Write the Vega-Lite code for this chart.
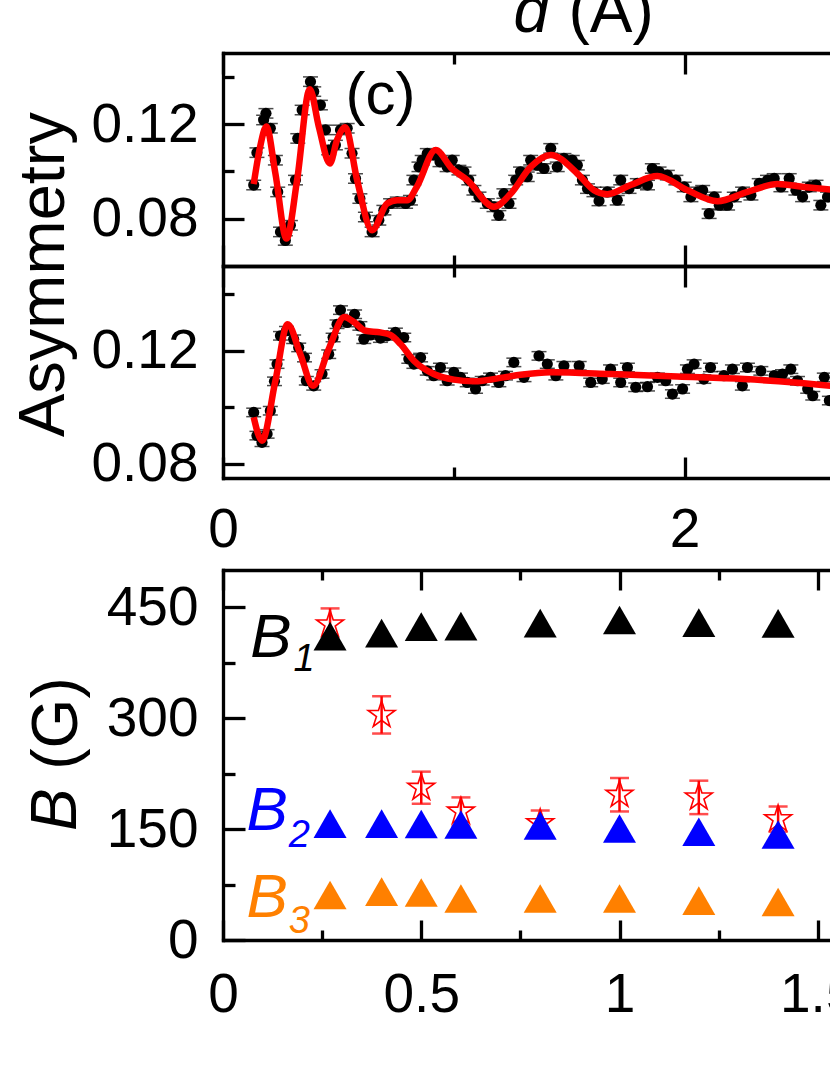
{
  "$schema": "https://vega.github.io/schema/vega-lite/v6.json",
  "padding": {"left": 11, "top": -20, "right": 0, "bottom": 5},
  "datasets": {
    "up": [
      {"x":0.133,"y":0.0942,"e":0.002},{"x":0.147,"y":0.1079,"e":0.002},{"x":0.176,"y":0.1217,"e":0.002},{"x":0.186,"y":0.1245,"e":0.002},
      {"x":0.205,"y":0.1182,"e":0.002},{"x":0.227,"y":0.1047,"e":0.002},{"x":0.237,"y":0.0913,"e":0.002},{"x":0.249,"y":0.0744,"e":0.002},
      {"x":0.270,"y":0.0708,"e":0.002},{"x":0.292,"y":0.0772,"e":0.002},{"x":0.314,"y":0.0963,"e":0.002},{"x":0.324,"y":0.1139,"e":0.002},
      {"x":0.343,"y":0.1259,"e":0.002},{"x":0.379,"y":0.1379,"e":0.002},{"x":0.393,"y":0.1337,"e":0.002},{"x":0.422,"y":0.1280,"e":0.002},
      {"x":0.444,"y":0.1175,"e":0.002},{"x":0.458,"y":0.1090,"e":0.002},{"x":0.487,"y":0.1111,"e":0.002},{"x":0.509,"y":0.1175,"e":0.002},
      {"x":0.538,"y":0.1182,"e":0.002},{"x":0.559,"y":0.1076,"e":0.002},{"x":0.574,"y":0.0970,"e":0.002},{"x":0.593,"y":0.0885,"e":0.002},
      {"x":0.617,"y":0.0807,"e":0.002},{"x":0.646,"y":0.0744,"e":0.002},{"x":0.675,"y":0.0793,"e":0.002},{"x":0.697,"y":0.0836,"e":0.002},
      {"x":0.726,"y":0.0864,"e":0.002},{"x":0.755,"y":0.0871,"e":0.002},{"x":0.791,"y":0.0864,"e":0.002},{"x":0.812,"y":0.0878,"e":0.002},
      {"x":0.827,"y":0.0963,"e":0.002},{"x":0.849,"y":0.1019,"e":0.002},{"x":0.863,"y":0.1047,"e":0.002},{"x":0.885,"y":0.1076,"e":0.002},
      {"x":0.913,"y":0.1069,"e":0.002},{"x":0.940,"y":0.1040,"e":0.002},{"x":0.971,"y":0.1019,"e":0.002},{"x":0.993,"y":0.1047,"e":0.002},
      {"x":1.022,"y":0.1005,"e":0.002},{"x":1.044,"y":0.0998,"e":0.002},{"x":1.065,"y":0.0963,"e":0.002},{"x":1.087,"y":0.0920,"e":0.002},
      {"x":1.109,"y":0.0892,"e":0.002},{"x":1.145,"y":0.0864,"e":0.002},{"x":1.174,"y":0.0850,"e":0.002},{"x":1.195,"y":0.0814,"e":0.002},
      {"x":1.217,"y":0.0906,"e":0.002},{"x":1.239,"y":0.0864,"e":0.002},{"x":1.268,"y":0.0963,"e":0.002},{"x":1.289,"y":0.0998,"e":0.002},
      {"x":1.318,"y":0.0977,"e":0.002},{"x":1.333,"y":0.1047,"e":0.002},{"x":1.362,"y":0.1026,"e":0.002},{"x":1.391,"y":0.1012,"e":0.002},
      {"x":1.420,"y":0.1097,"e":0.002},{"x":1.448,"y":0.1019,"e":0.002},{"x":1.477,"y":0.1055,"e":0.002},{"x":1.513,"y":0.1047,"e":0.002},
      {"x":1.535,"y":0.1026,"e":0.002},{"x":1.557,"y":0.0963,"e":0.002},{"x":1.579,"y":0.0927,"e":0.002},{"x":1.607,"y":0.0913,"e":0.002},
      {"x":1.629,"y":0.0875,"e":0.002},{"x":1.665,"y":0.0913,"e":0.002},{"x":1.708,"y":0.0878,"e":0.002},{"x":1.723,"y":0.0963,"e":0.002},
      {"x":1.759,"y":0.0927,"e":0.002},{"x":1.795,"y":0.0949,"e":0.002},{"x":1.839,"y":0.0942,"e":0.002},{"x":1.860,"y":0.1012,"e":0.002},
      {"x":1.889,"y":0.0998,"e":0.002},{"x":1.925,"y":0.0984,"e":0.002},{"x":1.962,"y":0.0963,"e":0.002},{"x":1.998,"y":0.0934,"e":0.002},
      {"x":2.027,"y":0.0892,"e":0.002},{"x":2.056,"y":0.0913,"e":0.002},{"x":2.078,"y":0.0920,"e":0.002},{"x":2.106,"y":0.0821,"e":0.002},
      {"x":2.128,"y":0.0892,"e":0.002},{"x":2.150,"y":0.0857,"e":0.002},{"x":2.186,"y":0.0857,"e":0.002},{"x":2.215,"y":0.0892,"e":0.002},
      {"x":2.251,"y":0.0913,"e":0.002},{"x":2.287,"y":0.0899,"e":0.002},{"x":2.323,"y":0.0949,"e":0.002},{"x":2.359,"y":0.0963,"e":0.002},
      {"x":2.388,"y":0.0970,"e":0.002},{"x":2.417,"y":0.0934,"e":0.002},{"x":2.453,"y":0.0970,"e":0.002},{"x":2.482,"y":0.0920,"e":0.002},
      {"x":2.511,"y":0.0892,"e":0.002},{"x":2.540,"y":0.0934,"e":0.002},{"x":2.569,"y":0.0942,"e":0.002},{"x":2.590,"y":0.0857,"e":0.002},
      {"x":2.619,"y":0.0892,"e":0.002}
    ],
    "upfit": [
      {"x":0.133,"y":0.0946},{"x":0.160,"y":0.1100},{"x":0.188,"y":0.1189},{"x":0.227,"y":0.0991},{"x":0.275,"y":0.0716},
      {"x":0.321,"y":0.0963},{"x":0.376,"y":0.1347},{"x":0.415,"y":0.1189},{"x":0.463,"y":0.1033},{"x":0.494,"y":0.1132},
      {"x":0.530,"y":0.1186},{"x":0.581,"y":0.0963},{"x":0.646,"y":0.0751},{"x":0.711,"y":0.0864},{"x":0.755,"y":0.0878},
      {"x":0.798,"y":0.0878},{"x":0.840,"y":0.0935},{"x":0.921,"y":0.1090},{"x":0.993,"y":0.1010},{"x":1.058,"y":0.0963},
      {"x":1.174,"y":0.0850},{"x":1.246,"y":0.0905},{"x":1.333,"y":0.1019},{"x":1.420,"y":0.1069},{"x":1.535,"y":0.0991},
      {"x":1.607,"y":0.0920},{"x":1.665,"y":0.0903},{"x":1.766,"y":0.0942},{"x":1.882,"y":0.0980},{"x":2.012,"y":0.0920},
      {"x":2.142,"y":0.0874},{"x":2.272,"y":0.0913},{"x":2.402,"y":0.0946},{"x":2.518,"y":0.0934},{"x":2.634,"y":0.0923}
    ],
    "lo": [
      {"x":0.133,"y":0.0982,"e":0.0015},{"x":0.147,"y":0.0900,"e":0.0015},{"x":0.169,"y":0.0876,"e":0.0015},{"x":0.191,"y":0.0906,"e":0.0015},
      {"x":0.205,"y":0.0988,"e":0.0015},{"x":0.223,"y":0.1092,"e":0.0015},{"x":0.234,"y":0.1153,"e":0.0015},{"x":0.249,"y":0.1253,"e":0.0015},
      {"x":0.275,"y":0.1271,"e":0.0015},{"x":0.306,"y":0.1241,"e":0.0015},{"x":0.328,"y":0.1212,"e":0.0015},{"x":0.353,"y":0.1176,"e":0.0015},
      {"x":0.361,"y":0.1094,"e":0.0015},{"x":0.393,"y":0.1076,"e":0.0015},{"x":0.429,"y":0.1118,"e":0.0015},{"x":0.458,"y":0.1188,"e":0.0015},
      {"x":0.477,"y":0.1247,"e":0.0015},{"x":0.494,"y":0.1294,"e":0.0015},{"x":0.509,"y":0.1344,"e":0.0015},{"x":0.538,"y":0.1300,"e":0.0015},
      {"x":0.570,"y":0.1329,"e":0.0015},{"x":0.593,"y":0.1288,"e":0.0015},{"x":0.610,"y":0.1241,"e":0.0015},{"x":0.639,"y":0.1256,"e":0.0015},
      {"x":0.682,"y":0.1245,"e":0.0015},{"x":0.711,"y":0.1253,"e":0.0015},{"x":0.747,"y":0.1265,"e":0.0015},{"x":0.783,"y":0.1247,"e":0.0015},
      {"x":0.805,"y":0.1171,"e":0.0015},{"x":0.827,"y":0.1153,"e":0.0015},{"x":0.856,"y":0.1176,"e":0.0015},{"x":0.885,"y":0.1129,"e":0.0015},
      {"x":0.913,"y":0.1112,"e":0.0015},{"x":0.942,"y":0.1141,"e":0.0015},{"x":0.971,"y":0.1094,"e":0.0015},{"x":1.000,"y":0.1124,"e":0.0015},
      {"x":1.029,"y":0.1106,"e":0.0015},{"x":1.058,"y":0.1088,"e":0.0015},{"x":1.094,"y":0.1065,"e":0.0015},{"x":1.123,"y":0.1094,"e":0.0015},
      {"x":1.159,"y":0.1106,"e":0.0015},{"x":1.195,"y":0.1088,"e":0.0015},{"x":1.224,"y":0.1112,"e":0.0015},{"x":1.260,"y":0.1159,"e":0.0015},
      {"x":1.304,"y":0.1106,"e":0.0015},{"x":1.369,"y":0.1182,"e":0.0015},{"x":1.405,"y":0.1153,"e":0.0015},{"x":1.442,"y":0.1112,"e":0.0015},
      {"x":1.477,"y":0.1147,"e":0.0015},{"x":1.543,"y":0.1147,"e":0.0015},{"x":1.593,"y":0.1088,"e":0.0015},{"x":1.643,"y":0.1100,"e":0.0015},
      {"x":1.679,"y":0.1135,"e":0.0015},{"x":1.723,"y":0.1088,"e":0.0015},{"x":1.752,"y":0.1141,"e":0.0015},{"x":1.788,"y":0.1071,"e":0.0015},
      {"x":1.839,"y":0.1073,"e":0.0015},{"x":1.882,"y":0.1106,"e":0.0015},{"x":1.918,"y":0.1094,"e":0.0015},{"x":1.947,"y":0.1047,"e":0.0015},
      {"x":1.991,"y":0.1065,"e":0.0015},{"x":2.012,"y":0.1135,"e":0.0015},{"x":2.041,"y":0.1153,"e":0.0015},{"x":2.083,"y":0.1100,"e":0.0015},
      {"x":2.112,"y":0.1141,"e":0.0015},{"x":2.170,"y":0.1112,"e":0.0015},{"x":2.207,"y":0.1135,"e":0.0015},{"x":2.250,"y":0.1076,"e":0.0015},
      {"x":2.272,"y":0.1141,"e":0.0015},{"x":2.330,"y":0.1129,"e":0.0015},{"x":2.388,"y":0.1112,"e":0.0015},{"x":2.424,"y":0.1118,"e":0.0015},
      {"x":2.460,"y":0.1135,"e":0.0015},{"x":2.489,"y":0.1094,"e":0.0015},{"x":2.533,"y":0.1065,"e":0.0015},{"x":2.555,"y":0.1041,"e":0.0015},
      {"x":2.605,"y":0.1106,"e":0.0015},{"x":2.627,"y":0.1024,"e":0.0015}
    ],
    "lofit": [
      {"x":0.133,"y":0.0965},{"x":0.169,"y":0.0882},{"x":0.227,"y":0.1094},{"x":0.280,"y":0.1294},{"x":0.335,"y":0.1188},
      {"x":0.390,"y":0.1076},{"x":0.458,"y":0.1206},{"x":0.526,"y":0.1320},{"x":0.570,"y":0.1300},{"x":0.617,"y":0.1271},
      {"x":0.682,"y":0.1265},{"x":0.725,"y":0.1256},{"x":0.769,"y":0.1224},{"x":0.827,"y":0.1165},{"x":0.913,"y":0.1118},
      {"x":1.000,"y":0.1098},{"x":1.087,"y":0.1092},{"x":1.217,"y":0.1106},{"x":1.289,"y":0.1115},{"x":1.420,"y":0.1124},
      {"x":1.680,"y":0.1118},{"x":1.969,"y":0.1109},{"x":2.258,"y":0.1100},{"x":2.475,"y":0.1088},{"x":2.634,"y":0.1076}
    ],
    "tri": [
      {"x":0.27,"B":410.6,"series":"B1"},{"x":0.4,"B":414.7,"series":"B1"},{"x":0.5,"B":423.5,"series":"B1"},{"x":0.6,"B":424.2,"series":"B1"},
      {"x":0.8,"B":428.2,"series":"B1"},{"x":1.0,"B":432.5,"series":"B1"},{"x":1.2,"B":428.9,"series":"B1"},{"x":1.4,"B":427.9,"series":"B1"},
      {"x":0.27,"B":157.3,"series":"B2"},{"x":0.4,"B":157.3,"series":"B2"},{"x":0.5,"B":156.8,"series":"B2"},{"x":0.6,"B":156.1,"series":"B2"},
      {"x":0.8,"B":154.8,"series":"B2"},{"x":1.0,"B":150.7,"series":"B2"},{"x":1.2,"B":146.2,"series":"B2"},{"x":1.4,"B":142.6,"series":"B2"},
      {"x":0.27,"B":60.9,"series":"B3"},{"x":0.4,"B":65.4,"series":"B3"},{"x":0.5,"B":64.1,"series":"B3"},{"x":0.6,"B":56.0,"series":"B3"},
      {"x":0.8,"B":56.0,"series":"B3"},{"x":1.0,"B":56.0,"series":"B3"},{"x":1.2,"B":53.2,"series":"B3"},{"x":1.4,"B":51.4,"series":"B3"}
    ],
    "star": [
      {"x":0.27,"B":426.5,"e":21.6},{"x":0.4,"B":304.2,"e":25.2},{"x":0.5,"B":205.8,"e":21.7},{"x":0.6,"B":173.7,"e":19.0},
      {"x":0.8,"B":158.0,"e":17.0},{"x":1.0,"B":196.3,"e":22.6},{"x":1.2,"B":192.7,"e":22.6},{"x":1.4,"B":163.4,"e":17.0}
    ]
  },
  "spacing": 0,
  "bounds": "flush",
  "vconcat": [
    {
      "width": 608,
      "height": 213,
      "resolve": {"axis": {"x": "independent", "y": "independent"}},
      "layer": [
        {
          "data": {"name": "up"},
          "mark": {"type": "errorbar", "ticks": true, "size": 15, "thickness": 1.5, "color": "black"},
          "encoding": {
            "x": {"field": "x", "type": "quantitative", "scale": {"domain": [0, 2.634], "nice": false, "zero": false}, "axis": null},
            "y": {"field": "y", "type": "quantitative", "scale": {"domain": [0.06, 0.15], "nice": false, "zero": false}, "axis": null},
            "yError": {"field": "e"}
          }
        },
        {
          "data": {"name": "up"},
          "mark": {"type": "point", "shape": "circle", "filled": true, "size": 125, "color": "black", "opacity": 1},
          "encoding": {
            "x": {"field": "x", "type": "quantitative", "scale": {"domain": [0, 2.634], "nice": false, "zero": false},
              "axis": {"orient": "bottom", "values": [0, 1, 2], "labels": false, "title": null,
                "tickSize": {"condition": {"test": "datum.value == 1", "value": -11}, "value": -21}}},
            "y": {"field": "y", "type": "quantitative", "scale": {"domain": [0.06, 0.15], "nice": false, "zero": false},
              "axis": {"orient": "left", "values": [0.08, 0.1, 0.12, 0.14], "format": ".2f",
                "labelExpr": "round(datum.value*100) % 4 == 0 ? datum.label : ''",
                "tickSize": {"condition": {"test": "round(datum.value*100) % 4 != 0", "value": -11}, "value": -21},
                "labelPadding": 46,
                "title": "Asymmetry", "titleX": -160, "titleY": 221, "titleAngle": 270, "titleAlign": "center", "titleBaseline": "alphabetic"}}
          }
        },
        {
          "data": {"name": "upfit"},
          "mark": {"type": "line", "color": "#FF0000", "strokeWidth": 6.5, "interpolate": "monotone"},
          "encoding": {
            "x": {"field": "x", "type": "quantitative", "scale": {"domain": [0, 2.634], "nice": false, "zero": false},
              "axis": {"orient": "top", "values": [0, 1, 2], "labels": false, "title": null,
                "tickSize": {"condition": {"test": "datum.value == 1", "value": -11}, "value": -21}}},
            "y": {"field": "y", "type": "quantitative", "scale": {"domain": [0.06, 0.15], "nice": false, "zero": false}, "axis": null}
          }
        },
        {
          "data": {"values": [{}]},
          "mark": {"type": "text", "text": "(c)", "fontSize": 60, "align": "center", "baseline": "alphabetic", "color": "black"},
          "encoding": {
            "x": {"datum": 0.682, "type": "quantitative", "axis": null},
            "y": {"datum": 0.1241, "type": "quantitative", "axis": null}
          }
        },
        {
          "data": {"values": [{}]},
          "mark": {"type": "text", "text": "d", "fontSize": 64, "fontStyle": "italic", "align": "left", "baseline": "alphabetic", "color": "black"},
          "encoding": {
            "x": {"datum": 1.259, "type": "quantitative", "axis": null},
            "y": {"datum": 0.159, "type": "quantitative", "axis": null}
          }
        },
        {
          "data": {"values": [{}]},
          "mark": {"type": "text", "text": "(Å)", "fontSize": 64, "align": "left", "baseline": "alphabetic", "color": "black"},
          "encoding": {
            "x": {"datum": 1.497, "type": "quantitative", "axis": null},
            "y": {"datum": 0.159, "type": "quantitative", "axis": null}
          }
        }
      ]
    },
    {
      "width": 608,
      "height": 212,
      "resolve": {"axis": {"x": "independent", "y": "independent"}},
      "layer": [
        {
          "data": {"name": "lo"},
          "mark": {"type": "errorbar", "ticks": true, "size": 15, "thickness": 1.5, "color": "black"},
          "encoding": {
            "x": {"field": "x", "type": "quantitative", "scale": {"domain": [0, 2.634], "nice": false, "zero": false}, "axis": null},
            "y": {"field": "y", "type": "quantitative", "scale": {"domain": [0.075, 0.15], "nice": false, "zero": false}, "axis": null},
            "yError": {"field": "e"}
          }
        },
        {
          "data": {"name": "lo"},
          "mark": {"type": "point", "shape": "circle", "filled": true, "size": 125, "color": "black", "opacity": 1},
          "encoding": {
            "x": {"field": "x", "type": "quantitative", "scale": {"domain": [0, 2.634], "nice": false, "zero": false},
              "axis": {"orient": "bottom", "values": [0, 1, 2], "format": "~g", "title": null,
                "labelExpr": "datum.value == 1 ? '' : datum.label",
                "labelPadding": 46,
                "tickSize": {"condition": {"test": "datum.value == 1", "value": -11}, "value": -21}}},
            "y": {"field": "y", "type": "quantitative", "scale": {"domain": [0.075, 0.15], "nice": false, "zero": false},
              "axis": {"orient": "left", "values": [0.08, 0.1, 0.12, 0.14], "format": ".2f",
                "labelExpr": "round(datum.value*100) % 4 == 0 ? datum.label : ''",
                "tickSize": {"condition": {"test": "round(datum.value*100) % 4 != 0", "value": -11}, "value": -21},
                "labelPadding": 46, "title": null}}
          }
        },
        {
          "data": {"name": "lofit"},
          "mark": {"type": "line", "color": "#FF0000", "strokeWidth": 6.5, "interpolate": "monotone"},
          "encoding": {
            "x": {"field": "x", "type": "quantitative", "scale": {"domain": [0, 2.634], "nice": false, "zero": false},
              "axis": {"orient": "top", "values": [0, 1, 2], "labels": false, "title": null,
                "tickSize": {"condition": {"test": "datum.value == 1", "value": -11}, "value": -21}}},
            "y": {"field": "y", "type": "quantitative", "scale": {"domain": [0.075, 0.15], "nice": false, "zero": false}, "axis": null}
          }
        }
      ]
    },
    {
      "width": 608,
      "height": 92,
      "data": {"values": [{}]},
      "mark": {"type": "text", "text": ""},
      "encoding": {}
    },
    {
      "width": 608,
      "height": 370,
      "resolve": {"axis": {"x": "independent", "y": "independent"}},
      "layer": [
        {
          "data": {"name": "star"},
          "mark": {"type": "errorbar", "ticks": true, "size": 19, "thickness": 2.5, "color": "#FF0000"},
          "encoding": {
            "x": {"field": "x", "type": "quantitative", "scale": {"domain": [0, 1.5334], "nice": false, "zero": false}, "axis": null},
            "y": {"field": "B", "type": "quantitative", "scale": {"domain": [0, 500], "nice": false, "zero": false}, "axis": null},
            "yError": {"field": "e"}
          }
        },
        {
          "data": {"name": "star"},
          "mark": {"type": "point", "shape": "M0,-1L0.2245,-0.309L0.951,-0.309L0.363,0.118L0.588,0.809L0,0.382L-0.588,0.809L-0.363,0.118L-0.951,-0.309L-0.2245,-0.309Z",
            "filled": false, "size": 800, "stroke": "#FF0000", "strokeWidth": 1.6, "opacity": 1},
          "encoding": {
            "x": {"field": "x", "type": "quantitative", "scale": {"domain": [0, 1.5334], "nice": false, "zero": false},
              "axis": {"orient": "top", "values": [0, 0.25, 0.5, 0.75, 1, 1.25, 1.5], "labels": false, "title": null,
                "tickSize": {"condition": {"test": "(datum.value*2) % 1 != 0", "value": -10}, "value": -20}}},
            "y": {"field": "B", "type": "quantitative", "scale": {"domain": [0, 500], "nice": false, "zero": false}, "axis": null}
          }
        },
        {
          "data": {"name": "tri"},
          "mark": {"type": "point", "shape": "triangle-up", "filled": true, "size": 1090, "opacity": 1},
          "encoding": {
            "x": {"field": "x", "type": "quantitative", "scale": {"domain": [0, 1.5334], "nice": false, "zero": false},
              "axis": {"orient": "bottom", "values": [0, 0.25, 0.5, 0.75, 1, 1.25, 1.5], "format": "~g", "title": null,
                "labelExpr": "(datum.value*2) % 1 == 0 ? datum.label : ''",
                "labelPadding": 48,
                "tickSize": {"condition": {"test": "(datum.value*2) % 1 != 0", "value": -10}, "value": -20}}},
            "y": {"field": "B", "type": "quantitative", "scale": {"domain": [0, 500], "nice": false, "zero": false},
              "axis": {"orient": "left", "values": [0, 75, 150, 225, 300, 375, 450],
                "labelExpr": "datum.value % 150 == 0 ? datum.label : ''",
                "tickSize": {"condition": {"test": "datum.value % 150 != 0", "value": -12}, "value": -22},
                "labelPadding": 47,
                "title": "(G)", "titleX": -147, "titleY": 153, "titleAngle": 270, "titleAlign": "center", "titleBaseline": "alphabetic", "titleFontSize": 64}},
            "color": {"field": "series", "type": "nominal", "scale": {"domain": ["B1", "B2", "B3"], "range": ["#000000", "#0000FF", "#FF8000"]}, "legend": null}
          }
        },
        {
          "data": {"values": [{}]},
          "mark": {"type": "text", "text": "B", "fontSize": 64, "fontStyle": "italic", "angle": 270, "align": "center", "baseline": "alphabetic", "color": "black"},
          "encoding": {
            "x": {"datum": -0.37, "type": "quantitative", "axis": null},
            "y": {"datum": 176, "type": "quantitative", "axis": null}
          }
        },
        {
          "data": {"values": [{}]},
          "mark": {"type": "text", "text": "B", "fontSize": 62, "fontStyle": "italic", "align": "left", "baseline": "alphabetic", "color": "#000000"},
          "encoding": {"x": {"datum": 0.069, "type": "quantitative", "axis": null}, "y": {"datum": 383, "type": "quantitative", "axis": null}}
        },
        {
          "data": {"values": [{}]},
          "mark": {"type": "text", "text": "1", "fontSize": 38, "fontStyle": "italic", "align": "left", "baseline": "alphabetic", "color": "#000000"},
          "encoding": {"x": {"datum": 0.178, "type": "quantitative", "axis": null}, "y": {"datum": 363, "type": "quantitative", "axis": null}}
        },
        {
          "data": {"values": [{}]},
          "mark": {"type": "text", "text": "B", "fontSize": 62, "fontStyle": "italic", "align": "left", "baseline": "alphabetic", "color": "#0000FF"},
          "encoding": {"x": {"datum": 0.059, "type": "quantitative", "axis": null}, "y": {"datum": 149, "type": "quantitative", "axis": null}}
        },
        {
          "data": {"values": [{}]},
          "mark": {"type": "text", "text": "2", "fontSize": 38, "fontStyle": "italic", "align": "left", "baseline": "alphabetic", "color": "#0000FF"},
          "encoding": {"x": {"datum": 0.166, "type": "quantitative", "axis": null}, "y": {"datum": 126, "type": "quantitative", "axis": null}}
        },
        {
          "data": {"values": [{}]},
          "mark": {"type": "text", "text": "B", "fontSize": 62, "fontStyle": "italic", "align": "left", "baseline": "alphabetic", "color": "#FF8000"},
          "encoding": {"x": {"datum": 0.059, "type": "quantitative", "axis": null}, "y": {"datum": 31, "type": "quantitative", "axis": null}}
        },
        {
          "data": {"values": [{}]},
          "mark": {"type": "text", "text": "3", "fontSize": 38, "fontStyle": "italic", "align": "left", "baseline": "alphabetic", "color": "#FF8000"},
          "encoding": {"x": {"datum": 0.166, "type": "quantitative", "axis": null}, "y": {"datum": 9.5, "type": "quantitative", "axis": null}}
        }
      ]
    }
  ],
  "config": {
    "font": "Liberation Sans",
    "view": {"stroke": null},
    "text": {"font": "Liberation Sans"},
    "axis": {
      "grid": false,
      "domainColor": "black",
      "domainWidth": 3.3,
      "domainCap": "square",
      "tickColor": "black",
      "tickWidth": 3.3,
      "labelFont": "Liberation Sans",
      "labelFontSize": 55,
      "labelColor": "black",
      "labelFlush": false,
      "labelOverlap": false,
      "labelBound": false,
      "titleFont": "Liberation Sans",
      "titleFontSize": 65,
      "titleFontWeight": "normal",
      "titleColor": "black"
    }
  }
}
